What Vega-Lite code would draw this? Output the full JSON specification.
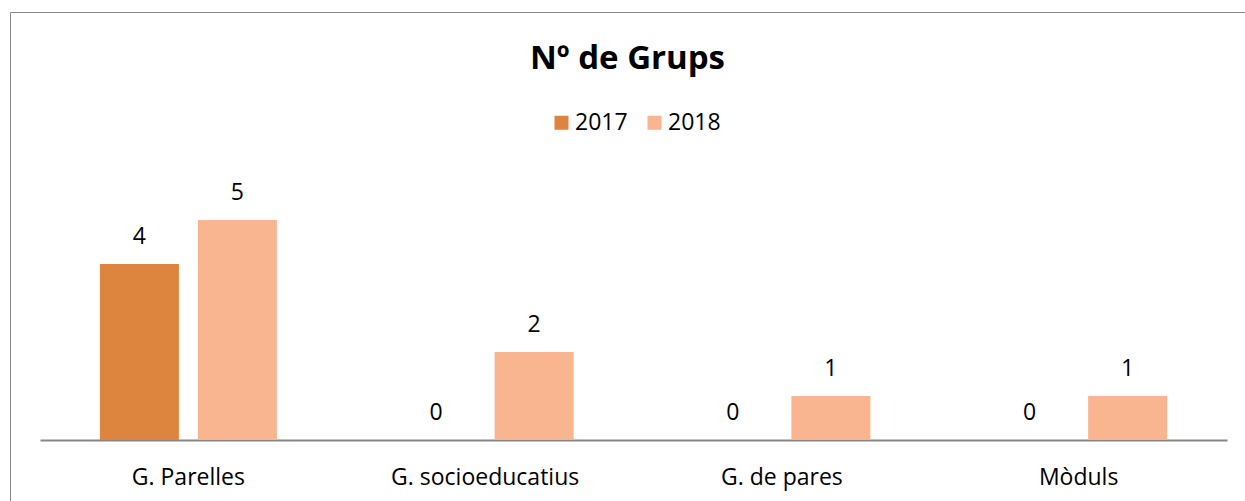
{
  "$schema": "https://vega.github.io/schema/vega-lite/v6.json",
  "width": 1235,
  "height": 489,
  "autosize": {"type": "none"},
  "padding": {"left": 10, "top": 12, "right": 0, "bottom": 0},
  "background": "white",
  "config": {
    "font": "Open Sans",
    "view": {"stroke": "#888888", "strokeWidth": 1}
  },
  "title": {
    "text": "Nº de Grups",
    "font": "Open Sans",
    "fontSize": 33,
    "fontWeight": "bold",
    "color": "#000000",
    "anchor": "middle",
    "frame": "group",
    "baseline": "middle",
    "offset": -80
  },
  "data": {
    "values": [
      {"grup": "G. Parelles", "any": "2017", "valor": 4},
      {"grup": "G. Parelles", "any": "2018", "valor": 5},
      {"grup": "G. socioeducatius", "any": "2017", "valor": 0},
      {"grup": "G. socioeducatius", "any": "2018", "valor": 2},
      {"grup": "G. de pares", "any": "2017", "valor": 0},
      {"grup": "G. de pares", "any": "2018", "valor": 1},
      {"grup": "Mòduls", "any": "2017", "valor": 0},
      {"grup": "Mòduls", "any": "2018", "valor": 1}
    ]
  },
  "encoding": {
    "x": {
      "field": "grup",
      "type": "nominal",
      "sort": ["G. Parelles", "G. socioeducatius", "G. de pares", "Mòduls"],
      "scale": {"range": [30, 1217], "paddingInner": 0, "paddingOuter": 0},
      "axis": {
        "title": null,
        "orient": "bottom",
        "offset": -61,
        "labelAngle": 0,
        "labelFont": "Open Sans",
        "labelFontSize": 23,
        "labelColor": "#000000",
        "labelPadding": 26,
        "labelLimit": 0,
        "ticks": false,
        "domainColor": "#878787",
        "domainWidth": 2,
        "grid": false
      }
    },
    "xOffset": {
      "field": "any",
      "type": "nominal",
      "scale": {"paddingInner": 0.194, "paddingOuter": 0.611}
    },
    "y": {
      "field": "valor",
      "type": "quantitative",
      "scale": {"domain": [0, 6], "range": [428, 164]},
      "axis": null
    }
  },
  "layer": [
    {
      "mark": {"type": "bar"},
      "encoding": {
        "color": {
          "field": "any",
          "type": "nominal",
          "scale": {"domain": ["2017", "2018"], "range": ["#DD843F", "#F9B590"]},
          "legend": {
            "title": null,
            "orient": "none",
            "direction": "horizontal",
            "legendX": 540,
            "legendY": 99,
            "symbolType": "square",
            "symbolSize": 196,
            "symbolStrokeWidth": 0,
            "labelFont": "Open Sans",
            "labelFontSize": 23,
            "labelColor": "#000000",
            "labelOffset": 2,
            "columnPadding": 15
          }
        }
      }
    },
    {
      "mark": {"type": "text", "dy": -27, "fontSize": 23, "font": "Open Sans", "color": "#000000", "baseline": "middle"},
      "encoding": {"text": {"field": "valor", "type": "quantitative"}}
    }
  ]
}
